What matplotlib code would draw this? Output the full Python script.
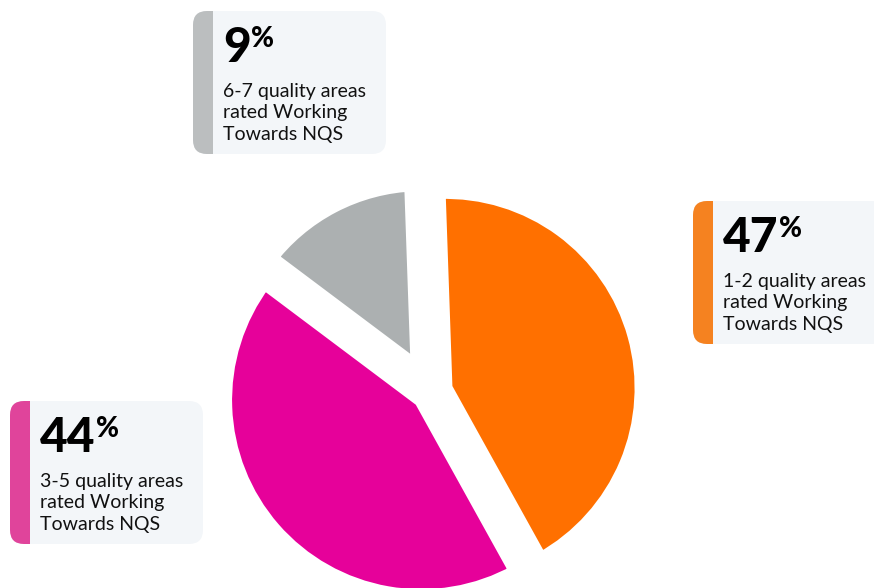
import matplotlib
matplotlib.use("Agg")
import matplotlib.pyplot as plt
from matplotlib.patches import FancyBboxPatch, Rectangle

# values printed on the cards
pct = [47, 44, 9]
labels = [
    "1-2 quality areas\nrated Working\nTowards NQS",
    "3-5 quality areas\nrated Working\nTowards NQS",
    "6-7 quality areas\nrated Working\nTowards NQS",
]
# the wedges in the graphic are not drawn to the printed shares,
# these are the shares
wedge_share = [42.5, 43.3, 14.2]

wedge_colors = ["#FF7000", "#E6019A", "#ACB0B1"]
stripe_colors = ["#F58220", "#E0449B", "#BBBEBF"]
card_bg = "#F3F6F9"

W, H = 874, 588
FONT = "Lato"

fig = plt.figure(figsize=(W / 100, H / 100), dpi=100)
ax = fig.add_axes([0, 0, 1, 1])

wedges, _ = ax.pie(
    wedge_share,
    colors=wedge_colors,
    startangle=92,
    counterclock=False,
    radius=196,
    center=(430.2, H - 392.2),
    explode=[15.9, 12.0, 18.0],
    wedgeprops=dict(edgecolor="white", linewidth=10, joinstyle="round"),
)
# the grey slice sits further back from its neighbours
wedges[2].set_linewidth(15.8)

ax.set_xlim(0, W)
ax.set_ylim(0, H)
ax.set_aspect("equal")
ax.axis("off")

# top-left corner of each card, in pixels from the top of the image
card_pos = [(693, 201), (10, 401), (193, 11)]
card_w, card_h, stripe_w, rr = 193, 143, 20, 14


def draw_card(x0, ytop, color, number, text):
    y0 = H - ytop - card_h
    ax.add_patch(FancyBboxPatch(
        (x0, y0), card_w, card_h,
        boxstyle=f"round,pad=0,rounding_size={rr}",
        facecolor=card_bg, edgecolor="none", zorder=3))
    ax.add_patch(FancyBboxPatch(
        (x0, y0), stripe_w + 2 * rr, card_h,
        boxstyle=f"round,pad=0,rounding_size={rr}",
        facecolor=color, edgecolor="none", zorder=4))
    ax.add_patch(Rectangle((x0 + stripe_w, y0), 2 * rr + 1, card_h,
                           facecolor=card_bg, edgecolor="none", zorder=4))

    tx = x0 + 30
    base = H - ytop - 50.5
    num = ax.text(tx, base, str(number), fontsize=34.5, fontweight="black",
                  family=FONT, color="black", va="baseline", ha="left",
                  zorder=5)
    ax.annotate("%", xy=(1, base + 14.5), xycoords=(num, "data"),
                xytext=(0.5, 0), textcoords="offset points",
                fontsize=20, fontweight="black", family=FONT,
                color="black", va="baseline", ha="left", zorder=5)
    for i, line in enumerate(text.split("\n")):
        ax.text(tx, H - ytop - 85.7 - i * 21.5, line, fontsize=14,
                family=FONT, color="#111111", va="baseline", ha="left",
                zorder=5)


for (x0, yt), c, p, t in zip(card_pos, stripe_colors, pct, labels):
    draw_card(x0, yt, c, p, t)

fig.savefig("out.png", dpi=100)
